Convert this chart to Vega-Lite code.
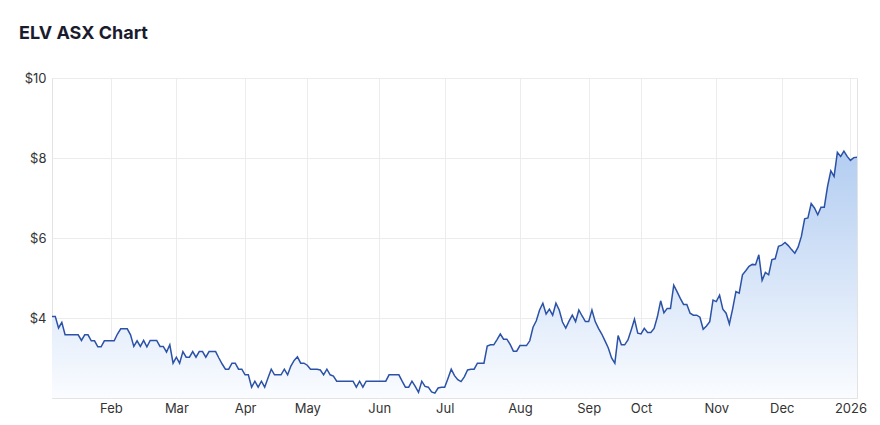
{
  "$schema": "https://vega.github.io/schema/vega-lite/v6.json",
  "width": 805,
  "height": 320,
  "autosize": {"type": "none"},
  "padding": {"left": 52, "top": 78, "right": 23, "bottom": 27},
  "background": "#ffffff",
  "title": {
    "text": "ELV ASX Chart",
    "anchor": "start",
    "frame": "group",
    "dx": -33,
    "offset": 0,
    "dy": -15,
    "baseline": "alphabetic",
    "font": "Inter",
    "fontSize": 18,
    "fontWeight": "bold",
    "color": "#1a1c2e"
  },
  "data": {
    "values": [
      {"d": "2025-01-07", "p": 4.04}, {"d": "2025-01-08", "p": 4.04}, {"d": "2025-01-09", "p": 3.75}, {"d": "2025-01-10", "p": 3.89},
      {"d": "2025-01-13", "p": 3.58}, {"d": "2025-01-14", "p": 3.58}, {"d": "2025-01-15", "p": 3.58}, {"d": "2025-01-16", "p": 3.58},
      {"d": "2025-01-17", "p": 3.58}, {"d": "2025-01-20", "p": 3.44}, {"d": "2025-01-21", "p": 3.58}, {"d": "2025-01-22", "p": 3.58},
      {"d": "2025-01-23", "p": 3.43}, {"d": "2025-01-24", "p": 3.43}, {"d": "2025-01-28", "p": 3.28}, {"d": "2025-01-29", "p": 3.28},
      {"d": "2025-01-30", "p": 3.43}, {"d": "2025-01-31", "p": 3.43},
      {"d": "2025-02-03", "p": 3.43}, {"d": "2025-02-04", "p": 3.43}, {"d": "2025-02-05", "p": 3.6}, {"d": "2025-02-06", "p": 3.73},
      {"d": "2025-02-07", "p": 3.73}, {"d": "2025-02-10", "p": 3.73}, {"d": "2025-02-11", "p": 3.58}, {"d": "2025-02-12", "p": 3.29},
      {"d": "2025-02-13", "p": 3.43}, {"d": "2025-02-14", "p": 3.29}, {"d": "2025-02-17", "p": 3.44}, {"d": "2025-02-18", "p": 3.28},
      {"d": "2025-02-19", "p": 3.44}, {"d": "2025-02-20", "p": 3.44}, {"d": "2025-02-21", "p": 3.44}, {"d": "2025-02-24", "p": 3.29},
      {"d": "2025-02-25", "p": 3.29}, {"d": "2025-02-26", "p": 3.15}, {"d": "2025-02-27", "p": 3.33}, {"d": "2025-02-28", "p": 2.87},
      {"d": "2025-03-03", "p": 3.02}, {"d": "2025-03-04", "p": 2.87}, {"d": "2025-03-05", "p": 3.16}, {"d": "2025-03-06", "p": 3.02},
      {"d": "2025-03-07", "p": 3.02}, {"d": "2025-03-10", "p": 3.16}, {"d": "2025-03-11", "p": 3.02}, {"d": "2025-03-12", "p": 3.16},
      {"d": "2025-03-13", "p": 3.16}, {"d": "2025-03-14", "p": 3.02}, {"d": "2025-03-17", "p": 3.16}, {"d": "2025-03-18", "p": 3.16},
      {"d": "2025-03-19", "p": 3.16}, {"d": "2025-03-20", "p": 3.0}, {"d": "2025-03-21", "p": 2.85}, {"d": "2025-03-24", "p": 2.72},
      {"d": "2025-03-25", "p": 2.72}, {"d": "2025-03-26", "p": 2.87}, {"d": "2025-03-27", "p": 2.87}, {"d": "2025-03-28", "p": 2.72},
      {"d": "2025-03-31", "p": 2.72},
      {"d": "2025-04-01", "p": 2.58}, {"d": "2025-04-02", "p": 2.58}, {"d": "2025-04-03", "p": 2.27}, {"d": "2025-04-04", "p": 2.42},
      {"d": "2025-04-07", "p": 2.27}, {"d": "2025-04-08", "p": 2.42}, {"d": "2025-04-09", "p": 2.27}, {"d": "2025-04-10", "p": 2.5},
      {"d": "2025-04-11", "p": 2.72}, {"d": "2025-04-14", "p": 2.58}, {"d": "2025-04-15", "p": 2.58}, {"d": "2025-04-16", "p": 2.58},
      {"d": "2025-04-17", "p": 2.72}, {"d": "2025-04-22", "p": 2.58}, {"d": "2025-04-23", "p": 2.8}, {"d": "2025-04-24", "p": 2.94},
      {"d": "2025-04-28", "p": 3.03}, {"d": "2025-04-29", "p": 2.87}, {"d": "2025-04-30", "p": 2.87},
      {"d": "2025-05-01", "p": 2.82}, {"d": "2025-05-02", "p": 2.72}, {"d": "2025-05-05", "p": 2.72}, {"d": "2025-05-06", "p": 2.72},
      {"d": "2025-05-07", "p": 2.7}, {"d": "2025-05-08", "p": 2.58}, {"d": "2025-05-09", "p": 2.72}, {"d": "2025-05-12", "p": 2.58},
      {"d": "2025-05-13", "p": 2.55}, {"d": "2025-05-14", "p": 2.42}, {"d": "2025-05-15", "p": 2.42}, {"d": "2025-05-16", "p": 2.42},
      {"d": "2025-05-19", "p": 2.42}, {"d": "2025-05-20", "p": 2.42}, {"d": "2025-05-21", "p": 2.42}, {"d": "2025-05-22", "p": 2.27},
      {"d": "2025-05-23", "p": 2.42}, {"d": "2025-05-26", "p": 2.27}, {"d": "2025-05-27", "p": 2.42}, {"d": "2025-05-28", "p": 2.42},
      {"d": "2025-05-29", "p": 2.42}, {"d": "2025-05-30", "p": 2.42},
      {"d": "2025-06-02", "p": 2.42}, {"d": "2025-06-03", "p": 2.42}, {"d": "2025-06-04", "p": 2.42}, {"d": "2025-06-05", "p": 2.58},
      {"d": "2025-06-06", "p": 2.58}, {"d": "2025-06-10", "p": 2.58}, {"d": "2025-06-11", "p": 2.58}, {"d": "2025-06-12", "p": 2.42},
      {"d": "2025-06-13", "p": 2.27}, {"d": "2025-06-16", "p": 2.27}, {"d": "2025-06-17", "p": 2.42}, {"d": "2025-06-18", "p": 2.29},
      {"d": "2025-06-19", "p": 2.14}, {"d": "2025-06-20", "p": 2.42}, {"d": "2025-06-23", "p": 2.29}, {"d": "2025-06-24", "p": 2.27},
      {"d": "2025-06-25", "p": 2.15}, {"d": "2025-06-26", "p": 2.12}, {"d": "2025-06-27", "p": 2.25}, {"d": "2025-06-30", "p": 2.27},
      {"d": "2025-07-01", "p": 2.27}, {"d": "2025-07-02", "p": 2.49}, {"d": "2025-07-03", "p": 2.72}, {"d": "2025-07-04", "p": 2.56},
      {"d": "2025-07-07", "p": 2.46}, {"d": "2025-07-08", "p": 2.41}, {"d": "2025-07-09", "p": 2.53}, {"d": "2025-07-10", "p": 2.7},
      {"d": "2025-07-11", "p": 2.72}, {"d": "2025-07-14", "p": 2.72}, {"d": "2025-07-15", "p": 2.87}, {"d": "2025-07-16", "p": 2.87},
      {"d": "2025-07-17", "p": 2.87}, {"d": "2025-07-18", "p": 3.3}, {"d": "2025-07-21", "p": 3.33}, {"d": "2025-07-22", "p": 3.33},
      {"d": "2025-07-23", "p": 3.46}, {"d": "2025-07-24", "p": 3.6}, {"d": "2025-07-25", "p": 3.47}, {"d": "2025-07-28", "p": 3.47},
      {"d": "2025-07-29", "p": 3.34}, {"d": "2025-07-30", "p": 3.17}, {"d": "2025-07-31", "p": 3.17},
      {"d": "2025-08-01", "p": 3.31}, {"d": "2025-08-04", "p": 3.31}, {"d": "2025-08-05", "p": 3.31}, {"d": "2025-08-06", "p": 3.43},
      {"d": "2025-08-07", "p": 3.77}, {"d": "2025-08-08", "p": 3.93}, {"d": "2025-08-11", "p": 4.2}, {"d": "2025-08-12", "p": 4.37},
      {"d": "2025-08-13", "p": 4.1}, {"d": "2025-08-14", "p": 4.22}, {"d": "2025-08-15", "p": 4.07}, {"d": "2025-08-18", "p": 4.37},
      {"d": "2025-08-19", "p": 4.2}, {"d": "2025-08-20", "p": 3.9}, {"d": "2025-08-21", "p": 3.75}, {"d": "2025-08-22", "p": 3.92},
      {"d": "2025-08-25", "p": 4.07}, {"d": "2025-08-26", "p": 3.91}, {"d": "2025-08-27", "p": 4.2}, {"d": "2025-08-28", "p": 4.05},
      {"d": "2025-08-29", "p": 3.91},
      {"d": "2025-09-01", "p": 3.91}, {"d": "2025-09-02", "p": 4.2}, {"d": "2025-09-03", "p": 3.91}, {"d": "2025-09-04", "p": 3.74},
      {"d": "2025-09-05", "p": 3.6}, {"d": "2025-09-08", "p": 3.43}, {"d": "2025-09-09", "p": 3.25}, {"d": "2025-09-10", "p": 3.0},
      {"d": "2025-09-11", "p": 2.87}, {"d": "2025-09-12", "p": 3.56}, {"d": "2025-09-15", "p": 3.33}, {"d": "2025-09-16", "p": 3.33},
      {"d": "2025-09-17", "p": 3.45}, {"d": "2025-09-18", "p": 3.7}, {"d": "2025-09-19", "p": 3.97}, {"d": "2025-09-22", "p": 3.62},
      {"d": "2025-10-01", "p": 3.6}, {"d": "2025-10-02", "p": 3.74}, {"d": "2025-10-03", "p": 3.64}, {"d": "2025-10-06", "p": 3.64},
      {"d": "2025-10-07", "p": 3.74}, {"d": "2025-10-08", "p": 4.03}, {"d": "2025-10-09", "p": 4.43}, {"d": "2025-10-10", "p": 4.13},
      {"d": "2025-10-13", "p": 4.24}, {"d": "2025-10-14", "p": 4.24}, {"d": "2025-10-15", "p": 4.82}, {"d": "2025-10-16", "p": 4.66},
      {"d": "2025-10-17", "p": 4.49}, {"d": "2025-10-20", "p": 4.34}, {"d": "2025-10-21", "p": 4.34}, {"d": "2025-10-22", "p": 4.12},
      {"d": "2025-10-23", "p": 4.07}, {"d": "2025-10-24", "p": 4.07}, {"d": "2025-10-27", "p": 4.02}, {"d": "2025-10-28", "p": 3.72},
      {"d": "2025-10-29", "p": 3.8}, {"d": "2025-10-30", "p": 3.91}, {"d": "2025-10-31", "p": 4.45},
      {"d": "2025-11-03", "p": 4.41}, {"d": "2025-11-04", "p": 4.57}, {"d": "2025-11-05", "p": 4.22}, {"d": "2025-11-06", "p": 4.12},
      {"d": "2025-11-07", "p": 3.85}, {"d": "2025-11-10", "p": 4.23}, {"d": "2025-11-11", "p": 4.66}, {"d": "2025-11-12", "p": 4.62},
      {"d": "2025-11-13", "p": 5.08}, {"d": "2025-11-14", "p": 5.18}, {"d": "2025-11-17", "p": 5.29}, {"d": "2025-11-18", "p": 5.34},
      {"d": "2025-11-19", "p": 5.33}, {"d": "2025-11-20", "p": 5.58}, {"d": "2025-11-21", "p": 4.94}, {"d": "2025-11-24", "p": 5.14},
      {"d": "2025-11-25", "p": 5.08}, {"d": "2025-11-26", "p": 5.46}, {"d": "2025-11-27", "p": 5.48}, {"d": "2025-11-28", "p": 5.79},
      {"d": "2025-12-01", "p": 5.82}, {"d": "2025-12-02", "p": 5.89}, {"d": "2025-12-03", "p": 5.81}, {"d": "2025-12-04", "p": 5.71},
      {"d": "2025-12-05", "p": 5.62}, {"d": "2025-12-08", "p": 5.77}, {"d": "2025-12-09", "p": 6.04}, {"d": "2025-12-10", "p": 6.48},
      {"d": "2025-12-11", "p": 6.5}, {"d": "2025-12-12", "p": 6.86}, {"d": "2025-12-15", "p": 6.75}, {"d": "2025-12-16", "p": 6.58},
      {"d": "2025-12-17", "p": 6.77}, {"d": "2025-12-18", "p": 6.77}, {"d": "2025-12-19", "p": 7.29}, {"d": "2025-12-22", "p": 7.68},
      {"d": "2025-12-23", "p": 7.54}, {"d": "2025-12-24", "p": 8.14}, {"d": "2025-12-29", "p": 8.04}, {"d": "2025-12-30", "p": 8.17},
      {"d": "2025-12-31", "p": 8.04},
      {"d": "2026-01-02", "p": 7.94}, {"d": "2026-01-05", "p": 8.01}, {"d": "2026-01-06", "p": 8.02}
    ]
  },
  "encoding": {
    "x": {
      "field": "d",
      "type": "ordinal",
      "sort": "ascending",
      "scale": {"type": "point", "padding": 0},
      "axis": {
        "title": null,
        "values": ["2025-02-03", "2025-03-03", "2025-04-01", "2025-05-01", "2025-06-02", "2025-07-01", "2025-08-01", "2025-09-01", "2025-10-01", "2025-11-03", "2025-12-01", "2026-01-02"],
        "labelExpr": "slice(datum.value, 5, 7) == '01' ? slice(datum.value, 0, 4) : ['Jan','Feb','Mar','Apr','May','Jun','Jul','Aug','Sep','Oct','Nov','Dec'][toNumber(slice(datum.value, 5, 7)) - 1]",
        "labelAngle": 0,
        "ticks": false,
        "domain": false,
        "grid": true,
        "labelPadding": 4
      }
    },
    "y": {
      "field": "p",
      "type": "quantitative",
      "scale": {"domain": [2, 10], "nice": false, "zero": false},
      "axis": {
        "title": null,
        "values": [4, 6, 8, 10],
        "labelExpr": "'$' + datum.value",
        "ticks": false,
        "domain": false,
        "grid": true,
        "labelPadding": 6
      }
    }
  },
  "layer": [
    {
      "mark": {
        "type": "area",
        "clip": true,
        "fill": {
          "gradient": "linear",
          "x1": 0, "y1": 0, "x2": 0, "y2": 1,
          "stops": [
            {"offset": 0, "color": "#b3cdf1"},
            {"offset": 1, "color": "#fafcff"}
          ]
        }
      },
      "encoding": {
        "y2": {"datum": 2}
      }
    },
    {
      "mark": {"type": "line", "color": "#2b52a6", "strokeWidth": 1.5, "clip": true}
    }
  ],
  "config": {
    "view": {"stroke": "#e3e3e3", "strokeWidth": 1},
    "axis": {
      "labelFont": "Inter",
      "labelFontSize": 13,
      "labelColor": "#333333",
      "gridColor": "#ececec",
      "gridWidth": 1
    }
  }
}
